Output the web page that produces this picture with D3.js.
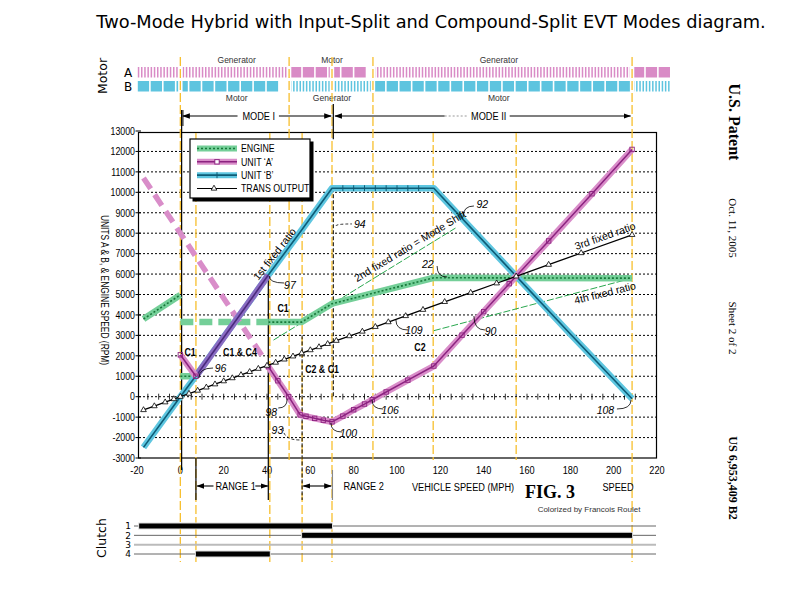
<!DOCTYPE html>
<html><head><meta charset="utf-8">
<script src="https://cdn.jsdelivr.net/npm/d3@7"></script>
<style>body{margin:0;background:#fff}svg{display:block}</style>
</head><body>
<svg id="c" width="792" height="614"></svg>
<script>
// ---------------- DATA ----------------
const title = "Two-Mode Hybrid with Input-Split and Compound-Split EVT Modes diagram.";
const speedTicks = [-20,0,20,40,60,80,100,120,140,160,180,200,220];
const rpmTicks = [-3000,-2000,-1000,0,1000,2000,3000,4000,5000,6000,7000,8000,9000,10000,11000,12000,13000];

// motor / generator bands
const motorFrom = [-20, 50.2, 88.9, 208.5];
const motorTo   = [50.2, 88.9, 208.5, 226];
const motorA    = ["gen","mot","gen","mot"];
const motorB    = ["mot","gen","mot","gen"];
const motorLabelSpeed = [26, 70, 147];
const motorLabelA = ["Generator","Motor","Generator"];
const motorLabelB = ["Motor","Generator","Motor"];

// guide lines (vehicle speeds at shift points)
const guideSpeed = [0, 7.2, 41.3, 50.2, 56.2, 70, 88.9, 116.7, 155, 208.5];
const guideSpan  = ["all","low","low","top","low","all","top","plot","plot","all"];

// Engine speed (rpm) vs vehicle speed (mph)
const engineSeg1Speed = [-17, 0];        const engineSeg1Rpm = [3800, 4980];
const engineSeg2Speed = [0, 7.2];        const engineSeg2Rpm = [1000, 1000];
const engineSeg3Speed = [0, 40.6];       const engineSeg3Rpm = [3650, 3650];
const engineSeg4Speed = [40.6, 56, 70, 117, 208.5];
const engineSeg4Rpm   = [3650, 3650, 4550, 5820, 5800];

// Unit A
const unitADashSpeed = [-17, 39];        const unitADashRpm = [10700, 1800];
const unitAC1Speed = [0, 7.2];           const unitAC1Rpm = [2050, 1000];
const unitAFixedSpeed = [7.2, 40.6];     const unitAFixedRpm = [1000, 5950];
const unitASpeed = [40.6, 45, 50, 55.3, 58, 62, 66, 70, 75, 80, 85, 88.6, 95, 105, 117, 130, 140, 151.8, 170, 190, 208.5];
const unitARpm   = [1470, 780, 0, -890, -960, -1060, -1150, -1230, -950, -640, -360, -150, 230, 810, 1500, 3010, 4160, 5530, 7620, 9930, 12100];

// Unit B
const unitBSpeed = [-17, 0, 7.2, 20, 30, 40.6, 55, 70, 75, 80, 85, 90, 95, 100, 105, 110, 117, 135, 155, 180, 208.5];
const unitBRpm   = [-2480, 0, 1020, 2910, 4370, 5950, 8010, 10200, 10200, 10200, 10200, 10200, 10200, 10200, 10200, 10200, 10200, 8160, 5900, 3070, -100];

// Transmission output
const transSpeed = [-17, -12, -7, -3, 0, 4, 8, 12, 16, 20, 24, 28, 32, 36, 40, 44, 48, 52, 56, 60, 64, 68, 72, 78, 84, 90, 96, 104, 112, 122, 134, 146, 155, 170, 185, 208.5];
const transRpm   = [-650, -460, -270, -115, 0, 150, 300, 455, 610, 760, 910, 1065, 1215, 1370, 1520, 1670, 1825, 1975, 2130, 2280, 2430, 2585, 2740, 2965, 3190, 3420, 3650, 3950, 4255, 4640, 5090, 5550, 5890, 6460, 7030, 7920];

// thin fixed-ratio reference lines
const ratio2Speed = [43, 127];   const ratio2Rpm = [2770, 8250];
const ratio4Speed = [117, 205];  const ratio4Rpm = [3230, 5700];

// clutches
const clutchIds = ["1","2","3","4"];
const clutchOnId   = ["1","2","4"];
const clutchOnFrom = [-19, 56.2, 7.2];
const clutchOnTo   = [70, 208.5, 41.3];

// legend
const legendNames = ["ENGINE","UNIT \u2018A\u2019","UNIT \u2018B\u2019","TRANS OUTPUT"];

// annotations (speed, rpm)
const boldLabels = ["C1","C1 & C4","C1","C2 & C1","C2"];
const boldSpeed  = [4.5, 27.5, 47.4, 65.4, 110.6];
const boldRpm    = [2190, 2200, 4340, 1360, 2430];
const refLabels = ["96","97","98","93","100","106","108","109","90","22","92","94"];
const refSpeed  = [18.6, 50.6, 42.0, 44.8, 77.6, 96.8, 196.2, 107.8, 143.2, 114.2, 139.4, 82.8];
const refRpm    = [1400, 5420, -760, -1640, -1790, -660, -660, 3260, 3170, 6450, 9380, 8440];
const leadFromSpeed = [8.6, 41.0, 49.3, 47.4, 69.5, 88.5, 208.0, 99.5, 135.5, 118.5, 130.5, 71.8];
const leadFromRpm   = [914, 5905, -113, -1531, -1286, -162, -162, 3752, 3948, 6395, 8793, 8354];
const leadToSpeed   = [15.1, 47.9, 45.2, 55.2, 74.6, 93.6, 201.5, 105.1, 140.6, 123.1, 135.5, 79.2];
const leadToRpm     = [1403, 5563, -553, -2118, -1727, -602, -602, 3263, 3263, 5857, 9331, 8452];
const ratioLabels = ["1st fixed ratio","2nd fixed ratio = Mode Shift","3rd fixed ratio","4th fixed ratio"];
const ratioSpeed  = [43.5, 106.0, 196.0, 196.0];
const ratioRpm    = [6980, 7374, 7864, 5075];
const ratioAngle  = [-52, -31, -19.5, -14];

// ---------------- DRAW ----------------
const svg = d3.select("#c");
const X = d3.scaleLinear().domain([-20, 220]).range([137, 657]);
const Y = d3.scaleLinear().domain([-3000, 13000]).range([458, 131]);
const zip = (a, b) => a.map((v, i) => [v, b[i]]);
const line = d3.line().x(d => X(d[0])).y(d => Y(d[1]));
const SANS = '"Liberation Sans",Arial,sans-serif';
const SQ = 0.8; // horizontal condensation for the narrow scan lettering

// condensed text helper
function ntext(parent, x, y, str, size, anchor, weight, rot) {
  return parent.append("text")
    .attr("transform", `translate(${x},${y})${rot ? ` rotate(${rot})` : ""} scale(${SQ},1)`)
    .attr("text-anchor", anchor || "start")
    .style("font", `${weight || ""} ${size}px ${SANS}`).text(str);
}

const defs = svg.append("defs");
defs.append("marker").attr("id","ah").attr("viewBox","0 0 10 10").attr("refX",9).attr("refY",5)
  .attr("markerWidth",7).attr("markerHeight",7).attr("orient","auto-start-reverse")
  .append("path").attr("d","M0,1.5L10,5L0,8.5z").attr("fill","#000");

// title
svg.append("text").attr("x",431).attr("y",28).attr("text-anchor","middle")
  .style("font",'17.8px "DejaVu Sans",sans-serif').text(title);

// ---- motor bands ----
const rowY = d3.scalePoint().domain(["A","B"]).range([67, 81]);
const rowColor = {A:"#d98bc6", B:"#5ec4df"};
const mg = svg.append("g");
[["A",motorA],["B",motorB]].forEach(([row, types]) => {
  types.forEach((t, i) => {
    const x0 = X(motorFrom[i]), x1 = X(motorTo[i]);
    const marks = [];
    if (t === "gen") { for (let x = x0 + 0.8; x + 1.5 <= x1; x += 3.2) marks.push([x, 1.5]); }
    else { for (let x = x0 + 0.8; x + 11 <= x1 + 0.5; x += 12.9) marks.push([x, 11.3]); }
    mg.selectAll(null).data(marks).enter().append("rect")
      .attr("x", d => d[0]).attr("width", d => d[1]).attr("y", rowY(row)).attr("height", 10.5)
      .attr("fill", rowColor[row]);
  });
});
motorLabelSpeed.forEach((s, i) => {
  svg.append("text").attr("x", X(s)).attr("y", 63).attr("text-anchor","middle")
    .style("font",`8.5px ${SANS}`).attr("fill","#333").text(motorLabelA[i]);
  svg.append("text").attr("x", X(s)).attr("y", 101).attr("text-anchor","middle")
    .style("font",`8.5px ${SANS}`).attr("fill","#333").text(motorLabelB[i]);
});
["A","B"].forEach(r => svg.append("text").attr("x",128).attr("y",rowY(r)+9.5).attr("text-anchor","middle")
  .style("font",'12px "DejaVu Sans",sans-serif').text(r));
svg.append("text").attr("transform","translate(107,76) rotate(-90)").attr("text-anchor","middle")
  .style("font",'12.5px "DejaVu Sans",sans-serif').text("Motor");

// ---- plot grid ----
const grid = svg.append("g");
grid.selectAll(null).data(rpmTicks.filter(t => t > -3000 && t < 13000)).enter().append("line")
  .attr("x1", 139).attr("x2", 657).attr("y1", d => Y(d)).attr("y2", d => Y(d))
  .attr("stroke","#000").attr("stroke-width",1).attr("stroke-dasharray","2,2");
grid.append("rect").attr("x",138.5).attr("y",Y(13000)+1.5).attr("width",518).attr("height",Y(-3000)-Y(13000)-1.5)
  .attr("fill","none").attr("stroke","#000").attr("stroke-width",1.2);
grid.selectAll(null).data(rpmTicks).enter().append("line")
  .attr("x1",135.5).attr("x2",141).attr("y1",d=>Y(d)).attr("y2",d=>Y(d)).attr("stroke","#000");
rpmTicks.forEach(t => ntext(grid, 135, Y(t) + 3.8, t, 11, "end"));
speedTicks.forEach(t => ntext(grid, X(t), 474, t, 11.5, "middle"));
grid.selectAll(null).data(d3.range(-15, 215, 5)).enter().append("line")
  .attr("x1",d=>X(d)).attr("x2",d=>X(d)).attr("y1",Y(0)-3).attr("y2",Y(0)+3).attr("stroke","#000").attr("stroke-width",0.8);
ntext(svg, 101, 290, "UNITS A & B, & ENGINE SPEED (RPM)", 10.5, "middle", "", 90);

// ---- guide (orange) lines ----
const spanTop = {all:57, low:133, top:57, plot:133};
const spanBot = {all:562, low:562, top:460, plot:460};
guideSpeed.forEach((s, i) => {
  const sp = guideSpan[i];
  if (spanTop[sp] < 70) svg.append("rect").attr("x",X(s)-2.2).attr("width",4.4).attr("y",65).attr("height",29).attr("fill","#fff");
  svg.append("line").attr("x1",X(s)).attr("x2",X(s)).attr("y1",spanTop[sp]).attr("y2",spanBot[sp])
    .attr("stroke","#f7bf2e").attr("stroke-width",1.3).attr("stroke-dasharray","9,3");
});

// black vertical reference lines
const bl = svg.append("g").attr("stroke","#000");
bl.append("line").attr("x1",X(0.6)).attr("x2",X(0.6)).attr("y1",110).attr("y2",470).attr("stroke-width",1.2);
bl.append("line").attr("x1",X(40.6)).attr("x2",X(40.6)).attr("y1",Y(5950)).attr("y2",500).attr("stroke-width",1.2);
bl.append("line").attr("x1",X(7.2)).attr("x2",X(7.2)).attr("y1",458).attr("y2",500).attr("stroke-width",1.2);
bl.append("line").attr("x1",X(56.2)).attr("x2",X(56.2)).attr("y1",Y(3000)).attr("y2",500).attr("stroke-width",1).attr("stroke-dasharray","4,2");
bl.append("line").attr("x1",X(70.6)).attr("x2",X(70.6)).attr("y1",104).attr("y2",Y(12600)).attr("stroke-width",1.2);
bl.append("line").attr("x1",X(70.6)).attr("x2",X(70.6)).attr("y1",Y(10200)).attr("y2",Y(0)).attr("stroke-width",1).attr("stroke-dasharray","4,2");
bl.append("line").attr("x1",X(70.2)).attr("x2",X(70.2)).attr("y1",470).attr("y2",500).attr("stroke-width",1.2).attr("stroke","#888");

// ---- mode arrows ----
const arrow = (v1, v2, y, start, end) => {
  const l = svg.append("line").attr("x1",X(v1)).attr("x2",X(v2)).attr("y1",y).attr("y2",y).attr("stroke","#000").attr("stroke-width",1.1);
  if (start) l.attr("marker-start","url(#ah)");
  if (end) l.attr("marker-end","url(#ah)");
};
arrow(1.2, 26.4, 116, true, false);
arrow(45.5, 69.6, 116, false, true);
arrow(71.4, 122, 116, true, false);
arrow(152, 207.8, 116, false, true);
svg.append("line").attr("x1",X(122)).attr("x2",X(133)).attr("y1",116).attr("y2",116).attr("stroke","#999").attr("stroke-dasharray","2,2");
ntext(svg, X(36.2), 120, "MODE I", 11.5, "middle");
ntext(svg, X(142.3), 120, "MODE II", 11.5, "middle");
svg.append("line").attr("x1",X(1.2)).attr("x2",X(1.2)).attr("y1",110).attr("y2",126).attr("stroke","#000");

// ---- range arrows / bottom texts ----
arrow(7.8, 15.3, 486, true, false);
arrow(34.6, 40.3, 486, false, true);
arrow(56.8, 69.6, 486, true, true);
ntext(svg, X(16.2), 490, "RANGE 1", 11.5, "start");
ntext(svg, X(75.3), 490, "RANGE 2", 11.5, "start");
ntext(svg, 463, 491, "VEHICLE SPEED (MPH)", 11.5, "middle");
svg.append("text").attr("x",550).attr("y",498).attr("text-anchor","middle").style("font",'bold 18px "Liberation Serif",serif').text("FIG. 3");
ntext(svg, 618, 491, "SPEED", 11.5, "middle");
svg.append("text").attr("x",589).attr("y",512).attr("text-anchor","middle").style("font",`8px ${SANS}`).attr("fill","#333").text("Colorized by Francois Roulet");

// ---- thin fixed ratio lines ----
svg.append("path").attr("d",line(zip(ratio2Speed,ratio2Rpm))).attr("fill","none").attr("stroke","#2aa84f").attr("stroke-width",1).attr("stroke-dasharray","7,2");
svg.append("path").attr("d",line(zip(ratio4Speed,ratio4Rpm))).attr("fill","none").attr("stroke","#2aa84f").attr("stroke-width",1).attr("stroke-dasharray","7,2");

// ---- series ----
const C = {gH:"#74cf98", gD:"#17793a", aH:"#d98dc9", aD:"#8c2380", bH:"#5ec6e0", bD:"#0e5c76", pH:"#8a6cc2", pD:"#4b2a7e"};
const halo = (pts, col, w, dash) => {
  const p = svg.append("path").attr("d", line(pts)).attr("fill","none").attr("stroke",col).attr("stroke-width",w)
    .attr("stroke-linejoin","round");
  if (dash) p.attr("stroke-dasharray", dash);
};
const core = (pts, col, w, dash) => {
  const p = svg.append("path").attr("d", line(pts)).attr("fill","none").attr("stroke",col).attr("stroke-width",w).attr("stroke-linejoin","round");
  if (dash) p.attr("stroke-dasharray", dash);
};
const e1 = zip(engineSeg1Speed, engineSeg1Rpm), e2 = zip(engineSeg2Speed, engineSeg2Rpm),
      e3 = zip(engineSeg3Speed, engineSeg3Rpm), e4 = zip(engineSeg4Speed, engineSeg4Rpm);
[e1,e2,e4].forEach(s => { halo(s, C.gH, 6.5); core(s, C.gD, 1.6, "2,2"); });
halo(e3, C.gH, 6.5, "13,6");
halo(zip(unitADashSpeed, unitADashRpm), "#d98dc9", 5.5, "13,7");
const bPts = zip(unitBSpeed, unitBRpm);
halo(bPts, C.bH, 6.5); core(bPts, C.bD, 1.6);
svg.selectAll(null).data(bPts.filter(d => d[0] > 70 && d[0] < 117)).enter().append("line")
  .attr("x1",d=>X(d[0])).attr("x2",d=>X(d[0])).attr("y1",d=>Y(d[1])-3).attr("y2",d=>Y(d[1])+3).attr("stroke",C.bD);
const aFix = zip(unitAFixedSpeed, unitAFixedRpm);
halo(aFix, C.pH, 6.5); core(aFix, C.pD, 1.6);
const aC1 = zip(unitAC1Speed, unitAC1Rpm), aPts = zip(unitASpeed, unitARpm);
[aC1, aPts].forEach(s => { halo(s, C.aH, 6.5); core(s, C.aD, 1.5); });
svg.selectAll(null).data(aPts.concat(aC1)).enter().append("rect")
  .attr("x",d=>X(d[0])-2.2).attr("y",d=>Y(d[1])-2.2).attr("width",4.4).attr("height",4.4)
  .attr("fill","none").attr("stroke",C.aD).attr("stroke-width",0.9);
const tPts = zip(transSpeed, transRpm);
core(tPts, "#000", 1.3);
const tri = d3.symbol().type(d3.symbolTriangle).size(14);
svg.selectAll(null).data(tPts).enter().append("path").attr("d", tri)
  .attr("transform", d => `translate(${X(d[0])},${Y(d[1])})`).attr("fill","#fff").attr("stroke","#000").attr("stroke-width",0.8);

// ---- annotations ----
boldLabels.forEach((t, i) => ntext(svg, X(boldSpeed[i]), Y(boldRpm[i]) + 3.8, t, 11, "middle", "bold"));
refLabels.forEach((t, i) => {
  svg.append("text").attr("x",X(refSpeed[i])).attr("y",Y(refRpm[i])+3.5).attr("text-anchor","middle")
    .style("font",`italic 10.5px ${SANS}`).text(t);
  const x1 = X(leadFromSpeed[i]), y1 = Y(leadFromRpm[i]), x2 = X(leadToSpeed[i]), y2 = Y(leadToRpm[i]);
  const p = svg.append("path").attr("d",`M${x1},${y1}Q${x1},${y2} ${x2},${y2}`).attr("fill","none").attr("stroke","#000").attr("stroke-width",0.8);
  if (t === "93" || t === "94") p.attr("stroke-dasharray","3,2");
});
ratioLabels.forEach((t, i) => svg.append("text")
  .attr("transform",`translate(${X(ratioSpeed[i])},${Y(ratioRpm[i])}) rotate(${ratioAngle[i]})`)
  .attr("text-anchor","middle").attr("dy","0.35em").style("font",`10.5px ${SANS}`).text(t));

// ---- legend ----
const lg = svg.append("g").attr("transform","translate(190,139)");
lg.append("rect").attr("x",2.5).attr("y",2.5).attr("width",121).attr("height",60).attr("fill","#000");
lg.append("rect").attr("x",0).attr("y",0).attr("width",120).attr("height",59).attr("fill","#fff").attr("stroke","#000").attr("stroke-width",1.2);
const ly = d3.scalePoint().domain(legendNames).range([9.5, 49.5]);
legendNames.forEach((n, i) => {
  const y = ly(n);
  const g = lg.append("g");
  if (i === 0) { g.append("line").attr("x1",7).attr("x2",47).attr("y1",y).attr("y2",y).attr("stroke",C.gH).attr("stroke-width",6);
    g.append("line").attr("x1",7).attr("x2",47).attr("y1",y).attr("y2",y).attr("stroke",C.gD).attr("stroke-width",1.6).attr("stroke-dasharray","2,2"); }
  if (i === 1) { g.append("line").attr("x1",7).attr("x2",47).attr("y1",y).attr("y2",y).attr("stroke",C.aH).attr("stroke-width",6);
    g.append("line").attr("x1",7).attr("x2",47).attr("y1",y).attr("y2",y).attr("stroke",C.aD).attr("stroke-width",1.5);
    g.append("rect").attr("x",24.8).attr("y",y-2.2).attr("width",4.4).attr("height",4.4).attr("fill","#fff").attr("stroke",C.aD); }
  if (i === 2) { g.append("line").attr("x1",7).attr("x2",47).attr("y1",y).attr("y2",y).attr("stroke",C.bH).attr("stroke-width",6);
    g.append("line").attr("x1",7).attr("x2",47).attr("y1",y).attr("y2",y).attr("stroke",C.bD).attr("stroke-width",1.6);
    g.append("line").attr("x1",27).attr("x2",27).attr("y1",y-3).attr("y2",y+3).attr("stroke",C.bD); }
  if (i === 3) { g.append("line").attr("x1",7).attr("x2",47).attr("y1",y).attr("y2",y).attr("stroke","#000").attr("stroke-width",1.2);
    g.append("path").attr("d",tri).attr("transform",`translate(24,${y})`).attr("fill","#fff").attr("stroke","#000").attr("stroke-width",0.8); }
  ntext(lg, 51, y + 3.9, n, 11, "start");
});

// ---- clutch chart ----
const cy = d3.scalePoint().domain(clutchIds).range([526, 554]);
clutchIds.forEach(c => {
  svg.append("line").attr("x1",134).attr("x2",656).attr("y1",cy(c)).attr("y2",cy(c))
    .attr("stroke", c === "3" ? "#bbb" : "#666").attr("stroke-width", c === "3" ? 2 : 1);
  svg.append("text").attr("x",131).attr("y",cy(c)+3.3).attr("text-anchor","end").style("font",'9px "DejaVu Sans",sans-serif').text(c);
});
clutchOnId.forEach((c, i) => {
  svg.append("rect").attr("x",X(clutchOnFrom[i])-1).attr("width",X(clutchOnTo[i])-X(clutchOnFrom[i])+2)
    .attr("y",cy(c)-3.5).attr("height",7).attr("fill","#ddd");
  svg.append("rect").attr("x",X(clutchOnFrom[i])).attr("width",X(clutchOnTo[i])-X(clutchOnFrom[i]))
    .attr("y",cy(c)-2.5).attr("height",5).attr("fill","#000");
});
svg.append("text").attr("transform","translate(106,538) rotate(-90)").attr("text-anchor","middle")
  .style("font",'12.5px "DejaVu Sans",sans-serif').text("Clutch");

// ---- patent header (rotated) ----
const hdr = [["U.S. Patent", 122, 'bold 16px "Liberation Serif",serif'],
             ["Oct. 11, 2005", 228, '11px "Liberation Serif",serif'],
             ["Sheet 2 of 2", 328, '11px "Liberation Serif",serif'],
             ["US 6,953,409 B2", 478, 'bold 12px "Liberation Serif",serif']];
hdr.forEach(([t, yc, f]) => svg.append("text").attr("transform",`translate(729,${yc}) rotate(90)`)
  .attr("text-anchor","middle").style("font", f).text(t));
</script>
</body></html>
